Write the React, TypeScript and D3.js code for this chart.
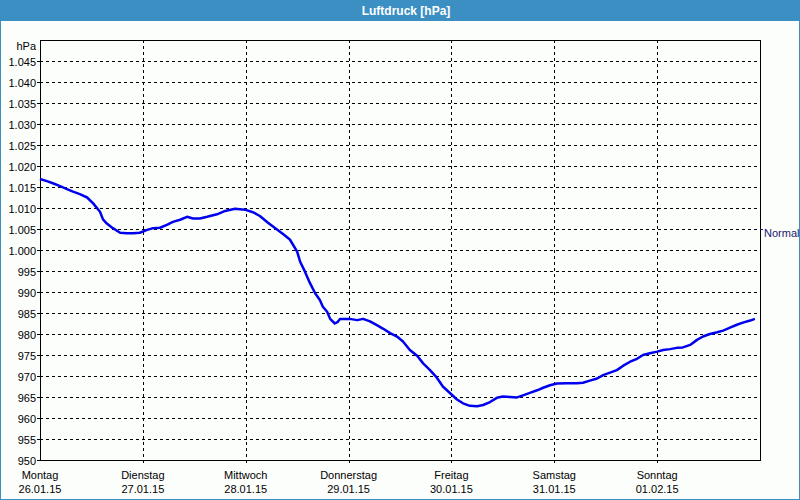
import React from "react";
import * as d3 from "d3";

const hours = [0, 1.6, 3.0, 4.7, 6.3, 7.7, 9.3, 11.0, 12.4, 14.0, 14.7, 15.6, 17.0, 18.7, 20.3, 21.7, 23.3, 25.0, 26.4, 28.0, 29.6, 31.0, 32.7, 34.3, 35.7, 37.3, 39.0, 41.3, 43.2, 45.5, 47.8, 49.7, 51.3, 53.2, 55.3, 56.7, 58.3, 60.0, 60.7, 61.8, 63.0, 64.2, 65.3, 66.0, 67.0, 67.7, 68.8, 69.5, 70.0, 71.2, 72.3, 74.0, 75.4, 77.0, 78.6, 80.0, 81.7, 83.3, 84.7, 86.3, 88.0, 89.4, 91.0, 92.6, 94.0, 95.7, 97.3, 98.7, 100.3, 102.0, 103.4, 105.0, 106.6, 108.0, 109.7, 111.3, 112.7, 114.3, 116.0, 117.4, 119.0, 120.6, 123.0, 125.3, 126.7, 128.3, 130.0, 131.4, 133.0, 134.6, 136.0, 137.7, 139.3, 140.7, 142.3, 144.0, 145.4, 147.0, 148.6, 150.0, 151.7, 153.3, 154.7, 156.3, 158.0, 159.4, 161.0, 162.6, 164.0, 165.7, 166.8];

const pressure = [1016.9, 1016.4, 1015.9, 1015.2, 1014.5, 1013.9, 1013.3, 1012.5, 1011.1, 1009.1, 1007.3, 1006.3, 1005.2, 1004.1, 1004.0, 1004.0, 1004.1, 1004.8, 1005.2, 1005.3, 1006.0, 1006.7, 1007.2, 1007.9, 1007.5, 1007.5, 1007.9, 1008.5, 1009.3, 1009.8, 1009.6, 1009.0, 1008.1, 1006.5, 1004.9, 1003.8, 1002.5, 999.6, 997.2, 994.9, 992.1, 989.7, 988.1, 986.5, 985.3, 983.6, 982.5, 982.9, 983.6, 983.6, 983.6, 983.3, 983.6, 983.0, 982.1, 981.3, 980.2, 979.4, 978.2, 976.2, 974.8, 973.0, 971.4, 969.6, 967.5, 965.9, 964.4, 963.5, 962.9, 962.8, 963.1, 963.8, 964.8, 965.1, 965.0, 964.9, 965.4, 966.0, 966.6, 967.2, 967.8, 968.2, 968.3, 968.3, 968.4, 968.9, 969.4, 970.2, 970.8, 971.4, 972.4, 973.4, 974.1, 975.0, 975.4, 975.8, 976.2, 976.4, 976.7, 976.8, 977.4, 978.6, 979.4, 980.0, 980.4, 980.8, 981.5, 982.2, 982.7, 983.2, 983.6];

const dayNames = ["Montag", "Dienstag", "Mittwoch", "Donnerstag", "Freitag", "Samstag", "Sonntag"];
const dayDates = ["26.01.15", "27.01.15", "28.01.15", "29.01.15", "30.01.15", "31.01.15", "01.02.15"];
const yTicks = [950, 955, 960, 965, 970, 975, 980, 985, 990, 995, 1000, 1005, 1010, 1015, 1020, 1025, 1030, 1035, 1040, 1045];
const normalValue = 1005;
const title = "Luftdruck [hPa]";
const yUnit = "hPa";
const normalLabel = "Normal";

const W = 800;
const H = 500;
const L = 40, R = 760, T = 40, B = 460;

const de = d3.formatLocale({ decimal: ",", thousands: ".", grouping: [3], currency: ["", " €"] });
const fmt = de.format(",");

export default function App() {
  const x = d3.scaleLinear().domain([0, 168]).range([L, R]);
  const y = d3.scaleLinear().domain([950, 1050]).range([B, T]);
  const pts: [number, number][] = hours.map((h, i) => [h, pressure[i]]);
  const line = d3.line<[number, number]>().x(d => x(d[0])).y(d => y(d[1])).curve(d3.curveLinear);
  const font = "'Liberation Sans', Arial, sans-serif";
  return (
    <svg width={W} height={H} style={{ position: "fixed", left: 0, top: 0 }} fontFamily={font}>
      <rect x={0} y={0} width={W} height={H} fill="#fcfefc" />
      <rect x={0.5} y={0.5} width={W - 1} height={H - 1} fill="none" stroke="#3b8fc3" strokeWidth={1} />
      <rect x={0} y={0} width={W} height={21} fill="#3b8fc3" />
      <text x={406} y={15} textAnchor="middle" fill="#ffffff" fontSize={12} fontWeight="bold">{title}</text>

      {yTicks.filter(v => v > 950).map(v => (
        <line key={"h" + v} x1={L} x2={R} y1={Math.round(y(v)) + 0.5} y2={Math.round(y(v)) + 0.5} stroke="#000" strokeDasharray="3,3" strokeWidth={1} />
      ))}
      {dayNames.slice(1).map((_, i) => (
        <line key={"v" + i} x1={Math.round(x((i + 1) * 24)) + 0.5} x2={Math.round(x((i + 1) * 24)) + 0.5} y1={T} y2={B + 3} stroke="#000" strokeDasharray="3,3" strokeWidth={1} />
      ))}
      {yTicks.map(v => (
        <g key={"t" + v}>
          <line x1={L - 3} x2={L} y1={Math.round(y(v)) + 0.5} y2={Math.round(y(v)) + 0.5} stroke="#000" />
          <text x={36} y={Math.round(y(v)) + 5} textAnchor="end" fontSize={11} fill="#000">{fmt(v)}</text>
        </g>
      ))}
      <text x={36} y={50} textAnchor="end" fontSize={11} fill="#000">{yUnit}</text>

      {dayNames.map((n, i) => (
        <g key={"d" + i}>
          <text x={x(i * 24)} y={479} textAnchor="middle" fontSize={11} fill="#000">{n}</text>
          <text x={x(i * 24)} y={493} textAnchor="middle" fontSize={11} fill="#000">{dayDates[i]}</text>
        </g>
      ))}

      <rect x={L + 0.5} y={T + 0.5} width={R - L} height={B - T} fill="none" stroke="#000" strokeWidth={1} />
      <line x1={R} x2={R + 3} y1={Math.round(y(normalValue)) + 0.5} y2={Math.round(y(normalValue)) + 0.5} stroke="#202070" />
      <text x={764} y={Math.round(y(normalValue)) + 8} fontSize={11} fill="#202070">{normalLabel}</text>

      <path d={line(pts) || ""} fill="none" stroke="#0000ee" strokeWidth={2.5} strokeLinejoin="round" />
    </svg>
  );
}
